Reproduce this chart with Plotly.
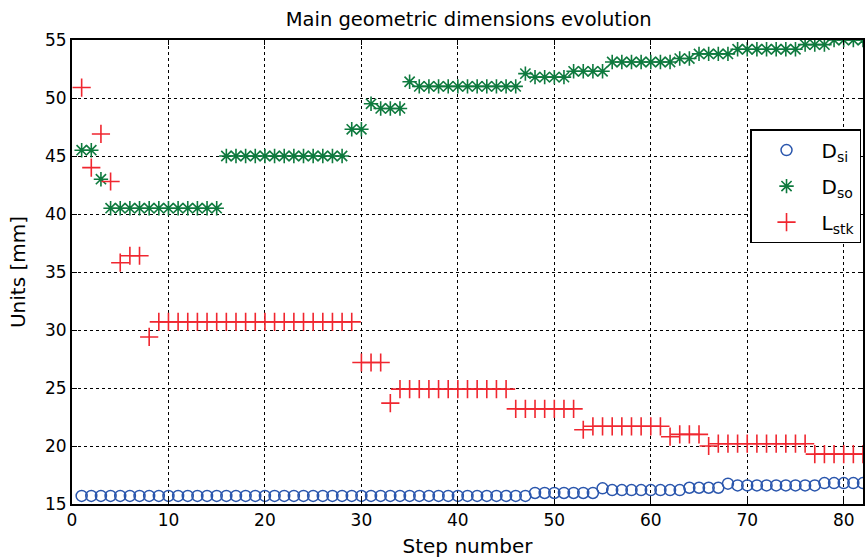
import plotly.graph_objects as go

# Optimisation step index
steps = list(range(1, 83))

# Stator inner diameter D_si [mm]
d_si = [
    15.7, 15.7, 15.7, 15.7, 15.7, 15.7, 15.7, 15.7, 15.7, 15.7,
    15.7, 15.7, 15.7, 15.7, 15.7, 15.7, 15.7, 15.7, 15.7, 15.7,
    15.7, 15.7, 15.7, 15.7, 15.7, 15.7, 15.7, 15.7, 15.7, 15.7,
    15.7, 15.7, 15.7, 15.7, 15.7, 15.7, 15.7, 15.7, 15.7, 15.7,
    15.7, 15.7, 15.7, 15.7, 15.7, 15.7, 15.7, 15.95, 15.95, 15.95,
    15.95, 15.95, 15.95, 15.95, 16.35, 16.2, 16.2, 16.2, 16.2, 16.2,
    16.2, 16.2, 16.2, 16.4, 16.4, 16.4, 16.4, 16.75, 16.6, 16.6,
    16.6, 16.6, 16.6, 16.6, 16.6, 16.6, 16.6, 16.8, 16.8, 16.8,
    16.8, 16.8,
]

# Stator outer diameter D_so [mm]
d_so = [
    45.5, 45.5, 43.0, 40.5, 40.5, 40.5, 40.5, 40.5, 40.5, 40.5,
    40.5, 40.5, 40.5, 40.5, 40.5, 45.0, 45.0, 45.0, 45.0, 45.0,
    45.0, 45.0, 45.0, 45.0, 45.0, 45.0, 45.0, 45.0, 47.3, 47.3,
    49.5, 49.1, 49.1, 49.1, 51.4, 51.0, 51.0, 51.0, 51.0, 51.0,
    51.0, 51.0, 51.0, 51.0, 51.0, 51.0, 52.1, 51.8, 51.8, 51.8,
    51.8, 52.3, 52.3, 52.3, 52.3, 53.1, 53.1, 53.1, 53.1, 53.1,
    53.1, 53.1, 53.4, 53.4, 53.8, 53.8, 53.8, 53.8, 54.2, 54.2,
    54.2, 54.2, 54.2, 54.2, 54.2, 54.6, 54.6, 54.6, 55.0, 55.0,
    55.0, 55.0,
]

# Stack length L_stk [mm]
l_stk = [
    50.9, 44.0, 46.9, 42.8, 35.8, 36.4, 36.4, 29.4, 30.7, 30.7,
    30.7, 30.7, 30.7, 30.7, 30.7, 30.7, 30.7, 30.7, 30.7, 30.7,
    30.7, 30.7, 30.7, 30.7, 30.7, 30.7, 30.7, 30.7, 30.7, 27.2,
    27.2, 27.2, 23.7, 24.9, 24.9, 24.9, 24.9, 24.9, 24.9, 24.9,
    24.9, 24.9, 24.9, 24.9, 24.9, 23.2, 23.2, 23.2, 23.2, 23.2,
    23.2, 23.2, 21.4, 21.7, 21.7, 21.7, 21.7, 21.7, 21.7, 21.7,
    21.7, 20.8, 21.0, 21.0, 21.0, 20.0, 20.2, 20.2, 20.2, 20.2,
    20.2, 20.2, 20.2, 20.2, 20.2, 20.2, 19.3, 19.3, 19.3, 19.3,
    19.3, 19.3,
]

x_ticks = [0, 10, 20, 30, 40, 50, 60, 70, 80]
y_ticks = [15, 20, 25, 30, 35, 40, 45, 50, 55]

BLUE = "#2a56ad"
GREEN = "#0e7a3e"
RED = "#f0262f"
FONT = "DejaVu Sans"

fig = go.Figure()
fig.add_trace(go.Scatter(
    x=steps, y=d_si, mode="markers", name="D<sub>si</sub>", legendgroup="a",
    marker=dict(symbol="circle-open", size=11, color=BLUE, line=dict(width=1.5, color=BLUE)),
))
fig.add_trace(go.Scatter(
    x=steps, y=d_so, mode="markers", name="D<sub>so</sub>", legendgroup="b",
    marker=dict(symbol="asterisk-open", size=12, color=GREEN, line=dict(width=1.6, color=GREEN)),
))
fig.add_trace(go.Scatter(
    x=steps, y=l_stk, mode="markers", name="L<sub>stk</sub>", legendgroup="c",
    marker=dict(symbol="cross-thin-open", size=13, color=RED, line=dict(width=1.6, color=RED)),
))

axis_common = dict(
    showgrid=True, gridcolor="black", gridwidth=1, griddash="dot",
    showline=True, linecolor="black", linewidth=2, mirror="ticks",
    ticks="inside", ticklen=5, tickcolor="black", tickwidth=1,
    zeroline=False, tickfont=dict(family=FONT, size=17, color="black"),
)

fig.update_layout(
    width=868, height=560,
    margin=dict(l=72, r=3, t=40, b=56),
    paper_bgcolor="white", plot_bgcolor="white",
    title=dict(text="Main geometric dimensions evolution", x=0.54, xanchor="center",
               y=0.966, yanchor="middle", font=dict(family=FONT, size=19.5, color="black")),
    xaxis=dict(range=[0, 82], tickvals=x_ticks, title=dict(text="Step number", standoff=10,
               font=dict(family=FONT, size=20, color="black")), **axis_common),
    yaxis=dict(range=[15, 55], tickvals=y_ticks, title=dict(text="Units [mm]", standoff=14,
               font=dict(family=FONT, size=20, color="black")), **axis_common),
    legend=dict(x=0.9975, xanchor="right", y=0.808, yanchor="top",
                bgcolor="white", bordercolor="black", borderwidth=1.5, itemwidth=60,
                font=dict(family=FONT, size=20, color="black"), tracegroupgap=7),
    showlegend=True,
)

fig.write_html("out.html")
